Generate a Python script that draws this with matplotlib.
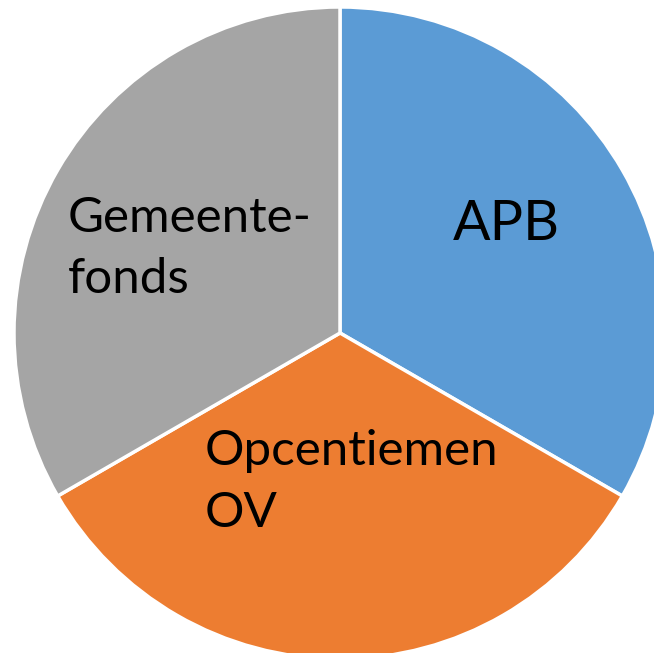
import matplotlib.pyplot as plt

labels = ["APB", "Opcentiemen\nOV", "Gemeente-\nfonds"]
shares = [1, 1, 1]
colors = ["#5B9BD5", "#ED7D31", "#A5A5A5"]

W, H = 654, 653
fig = plt.figure(figsize=(W / 100, H / 100), dpi=100)
ax = fig.add_axes([0, 0, 1, 1])

ax.pie(shares, colors=colors, startangle=90, counterclock=False,
       radius=326, center=(340, H - 333), frame=True,
       wedgeprops={"edgecolor": "white", "linewidth": 2.5})
ax.set_xlim(0, W)
ax.set_ylim(0, H)
ax.axis("off")

font = "Lato"
# label positions in pixel coords (x, top-down baseline y)
ax.text(453, H - 240, labels[0], fontsize=40, family=font, ha="left", va="baseline")
ax.text(205, H - 465, labels[1].split("\n")[0], fontsize=35.5, family=font, ha="left", va="baseline")
ax.text(205, H - 527, labels[1].split("\n")[1], fontsize=35.5, family=font, ha="left", va="baseline")
ax.text(68, H - 232, labels[2].split("\n")[0], fontsize=35.5, family=font, ha="left", va="baseline")
ax.text(68, H - 293, labels[2].split("\n")[1], fontsize=35.5, family=font, ha="left", va="baseline")

fig.savefig("out.png", dpi=100)
